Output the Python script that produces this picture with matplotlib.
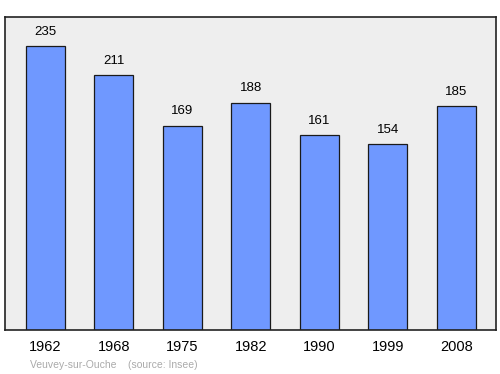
import matplotlib
matplotlib.use('Agg')
import matplotlib.pyplot as plt

years = ['1962', '1968', '1975', '1982', '1990', '1999', '2008']
population = [235, 211, 169, 188, 161, 154, 185]

plt.rcParams['font.family'] = ['Liberation Sans', 'DejaVu Sans']

fig = plt.figure(figsize=(5, 3.74), dpi=100)
ax = fig.add_axes([0.01, 0.1176, 0.982, 0.837])
ax.set_facecolor('#eeeeee')

x = list(range(len(years)))
ax.bar(x, population, width=0.57, color='#6f98ff', edgecolor='#1a1a1a', linewidth=0.9)

for xi, v in zip(x, population):
    ax.annotate(str(v), (xi, v), xytext=(0, 10.3), textcoords='offset points',
                ha='center', va='center', fontsize=9.5)

ax.set_xlim(-0.59, 6.58)
ax.set_ylim(0, 259)
ax.set_yticks([])
ax.set_xticks(x)
ax.set_xticklabels(years, fontsize=10.5)
ax.tick_params(axis='x', length=0, pad=7.5)
for s in ax.spines.values():
    s.set_color('#222222')
    s.set_linewidth(1.2)

fig.text(0.06, 0.025, 'Veuvey-sur-Ouche    (source: Insee)', fontsize=7.5,
         color='#aaaaaa', ha='left', va='center')

fig.savefig('out.png', dpi=100)
